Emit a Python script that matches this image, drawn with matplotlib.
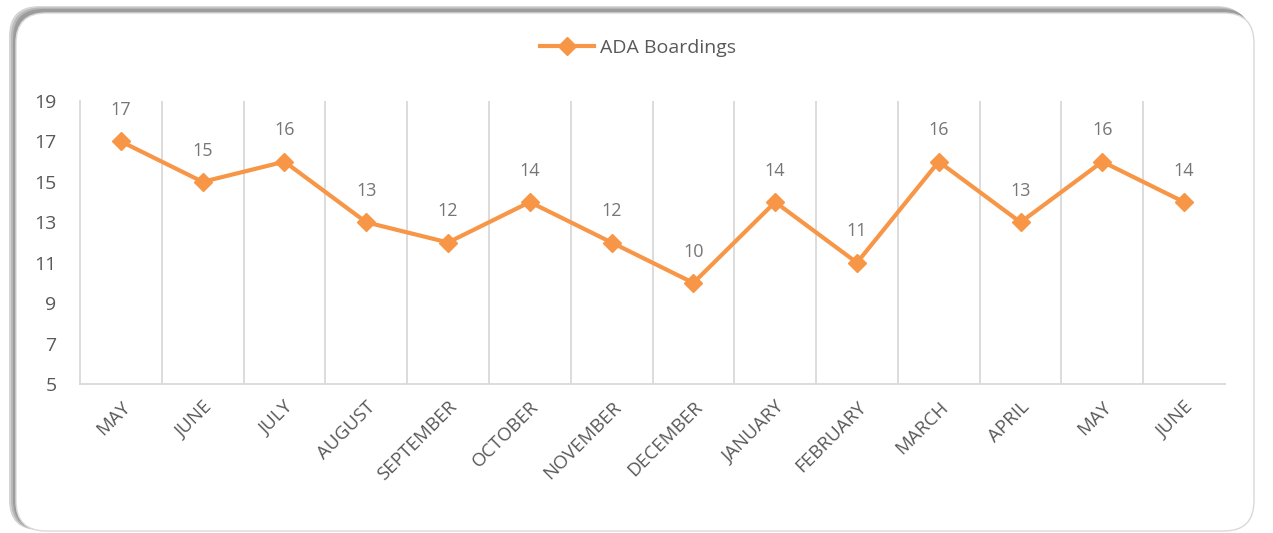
import matplotlib
matplotlib.use("Agg")
import matplotlib.pyplot as plt
from matplotlib.patches import FancyBboxPatch

months = ["MAY", "JUNE", "JULY", "AUGUST", "SEPTEMBER", "OCTOBER", "NOVEMBER",
          "DECEMBER", "JANUARY", "FEBRUARY", "MARCH", "APRIL", "MAY", "JUNE"]
boardings = [17, 15, 16, 13, 12, 14, 12, 10, 14, 11, 16, 13, 16, 14]
yticks = [5, 7, 9, 11, 13, 15, 17, 19]

plt.rcParams['font.family'] = ['Open Sans', 'DejaVu Sans']
orange = "#F79646"
gray = "#595959"

fig = plt.figure(figsize=(12.73, 5.33), dpi=100)

# rounded frame with soft shadow
for off, col in [(7, "#d4d4d4"), (5, "#b8b8b8"), (3, "#9c9c9c")]:
    sh = FancyBboxPatch((16 - off, 3), 1238, 519 + off * 0.7,
                        boxstyle="round,pad=0,rounding_size=30",
                        transform=None, facecolor=col, edgecolor="none",
                        zorder=-3)
    fig.patches.append(sh)
box = FancyBboxPatch((16, 2), 1238, 518,
                     boxstyle="round,pad=0,rounding_size=30",
                     transform=None, facecolor="white",
                     edgecolor="#d9d9d9", linewidth=1, zorder=-2)
fig.patches.append(box)

ax = fig.add_axes([80 / 1273, 1 - 384 / 533, (1225 - 80) / 1273, (384 - 101) / 533])
ax.set_facecolor("none")
x = list(range(len(months)))
ax.plot(x, boardings, color=orange, lw=3, marker="D", markersize=9,
        label="ADA Boardings", zorder=3)
for xi, v in zip(x, boardings):
    ax.annotate(str(v), (xi, v), xytext=(0, 16), textcoords="offset points",
                ha="center", va="bottom", fontsize=13, color="#767676")

ax.set_xlim(-0.5, len(months) - 0.5)
ax.set_ylim(5, 19)
ax.set_yticks(yticks)
ax.set_xticks(x)
ax.set_xticklabels(months, rotation=45, ha="right", rotation_mode="anchor",
                   fontsize=13.5, color=gray)
for b in [i + 0.5 for i in x[:-1]]:
    ax.axvline(b, color="#d9d9d9", lw=1.3, zorder=1)
ax.tick_params(axis="x", length=0, pad=10)
ax.tick_params(axis="y", length=0, pad=17, labelsize=14, labelcolor=gray)
for s in ["top", "right"]:
    ax.spines[s].set_visible(False)
for s in ["left", "bottom"]:
    ax.spines[s].set_color("#d9d9d9")
    ax.spines[s].set_linewidth(1.3)

fig.legend(loc="center", bbox_to_anchor=(638 / 1273, 1 - 48 / 533),
           frameon=False, fontsize=14, labelcolor=gray, handlelength=2.8,
           handletextpad=0.3)

fig.savefig("out.png", dpi=100)
